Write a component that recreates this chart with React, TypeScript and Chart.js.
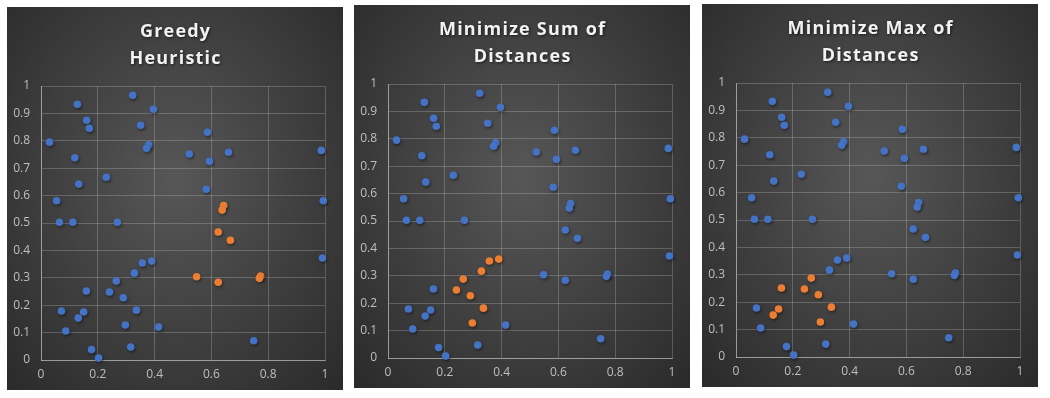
import React, { useEffect, useRef } from 'react';
import { Chart, registerables } from 'chart.js';

Chart.register(...registerables);

// ---- data ----
const POINT_X = [
  0.030, 0.128, 0.161, 0.170, 0.323, 0.396, 0.351, 0.379, 0.372, 0.119,
  0.133, 0.230, 0.055, 0.065, 0.112, 0.269, 0.522, 0.586, 0.593, 0.660,
  0.582, 0.987, 0.994, 0.991, 0.749, 0.643, 0.638, 0.624, 0.667, 0.548,
  0.624, 0.773, 0.769, 0.357, 0.390, 0.329, 0.265, 0.160, 0.241, 0.290,
  0.072, 0.150, 0.131, 0.336, 0.297, 0.087, 0.414, 0.178, 0.203, 0.316,
];
const POINT_Y = [
  0.795, 0.933, 0.875, 0.846, 0.966, 0.915, 0.857, 0.785, 0.773, 0.738,
  0.642, 0.667, 0.581, 0.503, 0.503, 0.503, 0.752, 0.831, 0.725, 0.758,
  0.623, 0.765, 0.581, 0.372, 0.070, 0.564, 0.547, 0.467, 0.437, 0.304,
  0.284, 0.306, 0.298, 0.354, 0.361, 0.317, 0.288, 0.252, 0.248, 0.227,
  0.179, 0.175, 0.153, 0.182, 0.128, 0.106, 0.120, 0.038, 0.007, 0.047,
];

// indices of the points highlighted (orange) in each panel
const GREEDY_SELECTED = [25, 26, 27, 28, 29, 30, 31, 32];
const SUM_SELECTED = [33, 34, 35, 36, 38, 39, 43, 44];
const MAX_SELECTED = [36, 37, 38, 39, 41, 42, 43, 44];

const GREEDY_TITLE = ['Greedy', 'Heuristic'];
const SUM_TITLE = ['Minimize Sum of', 'Distances'];
const MAX_TITLE = ['Minimize Max of', 'Distances'];

const X_TICK_LABELS = ['0', '0.2', '0.4', '0.6', '0.8', '1'];
const Y_TICK_LABELS = ['0', '0.1', '0.2', '0.3', '0.4', '0.5', '0.6', '0.7', '0.8', '0.9', '1'];

const BLUE = '#4472C4';
const ORANGE = '#ED7D31';

const PANEL_W = 336;
const PANEL_H = 383;

function Panel({ title, selected, left, top }: { title: string[]; selected: number[]; left: number; top: number }) {
  const ref = useRef<HTMLCanvasElement | null>(null);

  useEffect(() => {
    if (!ref.current) return;
    const sel = new Set(selected);
    const blue: { x: number; y: number }[] = [];
    const orange: { x: number; y: number }[] = [];
    POINT_X.forEach((x, i) => {
      const p = { x, y: POINT_Y[i] };
      if (sel.has(i)) orange.push(p);
      else blue.push(p);
    });

    const titlePlugin = {
      id: 'panelTitle',
      afterDraw(chart: any) {
        const ctx = chart.ctx as CanvasRenderingContext2D;
        ctx.save();
        ctx.font = 'bold 18px "Open Sans"';
        (ctx as any).letterSpacing = '1.2px';
        ctx.fillStyle = '#f2f2f2';
        ctx.textAlign = 'center';
        ctx.textBaseline = 'alphabetic';
        ctx.shadowColor = 'rgba(0,0,0,0.6)';
        ctx.shadowBlur = 3;
        ctx.shadowOffsetX = 1;
        ctx.shadowOffsetY = 1;
        title.forEach((line, i) => {
          ctx.fillText(line, chart.width / 2 + 0.6, 30 + i * 26.5);
        });
        ctx.restore();
      },
    };

    const shadowPlugin = {
      id: 'pointShadow',
      beforeDatasetsDraw(chart: any) {
        const ctx = chart.ctx as CanvasRenderingContext2D;
        ctx.save();
        ctx.shadowColor = 'rgba(0,0,0,0.45)';
        ctx.shadowBlur = 3;
        ctx.shadowOffsetX = 1;
        ctx.shadowOffsetY = 1.5;
      },
      afterDatasetsDraw(chart: any) {
        chart.ctx.restore();
      },
    };

    const tickFont = { family: '"Open Sans"', size: 12 };

    const chart = new Chart(ref.current, {
      type: 'scatter',
      data: {
        datasets: [
          {
            label: 'Points',
            data: blue,
            backgroundColor: BLUE,
            borderColor: BLUE,
            borderWidth: 0,
            pointRadius: 3.8,
            clip: false as any,
          },
          {
            label: 'Selected',
            data: orange,
            backgroundColor: ORANGE,
            borderColor: ORANGE,
            borderWidth: 0,
            pointRadius: 3.8,
            clip: false as any,
          },
        ],
      },
      options: {
        animation: false,
        responsive: false,
        maintainAspectRatio: false,
        layout: { padding: { top: 79, right: 18, left: 0, bottom: 0 } },
        plugins: {
          legend: { display: false },
          tooltip: { enabled: false },
          title: { display: false },
        },
        scales: {
          x: {
            type: 'linear',
            min: 0,
            max: 1,
            afterFit: (s: any) => { s.height = 30; },
            afterBuildTicks: (s: any) => {
              s.ticks = X_TICK_LABELS.map((l) => ({ value: parseFloat(l) }));
            },
            ticks: {
              color: '#bfbfbf',
              font: tickFont,
              padding: 7,
              callback: (_v: any, i: number) => X_TICK_LABELS[i],
            },
            grid: { color: 'rgba(255,255,255,0.2)', lineWidth: 1, drawTicks: false },
            border: { color: 'rgba(255,255,255,0.38)', width: 1 },
          },
          y: {
            type: 'linear',
            min: 0,
            max: 1,
            afterFit: (s: any) => { s.width = 34; },
            afterBuildTicks: (s: any) => {
              s.ticks = Y_TICK_LABELS.map((l) => ({ value: parseFloat(l) }));
            },
            ticks: {
              color: '#bfbfbf',
              font: tickFont,
              padding: 11,
              callback: (_v: any, i: number) => Y_TICK_LABELS[i],
            },
            grid: { color: 'rgba(255,255,255,0.2)', lineWidth: 1, drawTicks: false },
            border: { color: 'rgba(255,255,255,0.38)', width: 1 },
          },
        },
      },
      plugins: [titlePlugin, shadowPlugin],
    } as any);

    return () => chart.destroy();
  }, [title, selected]);

  return (
    <div
      style={{
        position: 'absolute',
        left,
        top,
        width: PANEL_W,
        height: PANEL_H,
        background: 'radial-gradient(ellipse at 50% 45%, #575757 0%, #454545 40%, #2a2a2a 100%)',
      }}
    >
      <canvas ref={ref} width={PANEL_W} height={PANEL_H} style={{ display: 'block', width: PANEL_W, height: PANEL_H }} />
    </div>
  );
}

export default function App() {
  return (
    <div style={{ position: 'absolute', left: 0, top: 0, width: 1050, height: 398, background: '#ffffff', overflow: 'hidden' }}>
      <Panel title={GREEDY_TITLE} selected={GREEDY_SELECTED} left={7} top={7} />
      <Panel title={SUM_TITLE} selected={SUM_SELECTED} left={354} top={5} />
      <Panel title={MAX_TITLE} selected={MAX_SELECTED} left={702} top={4} />
    </div>
  );
}
